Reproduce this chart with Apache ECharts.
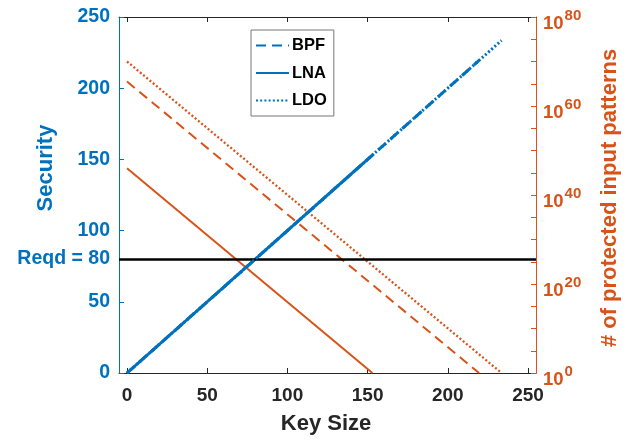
<!DOCTYPE html>
<html>
<head>
<meta charset="utf-8">
<script src="https://cdn.jsdelivr.net/npm/echarts@6/dist/echarts.min.js"></script>
<style>html,body{margin:0;padding:0;background:#fff;}#c{width:628px;height:440px;}</style>
</head>
<body>
<div id="c"></div>
<script>
// ---- data ----
const circuits = ['BPF', 'LNA', 'LDO'];
// key size (x) at start / end of each circuit's lines
const keySizeBPF = [0, 219.5];
const keySizeLNA = [0, 153];
const keySizeLDO = [0, 233.5];
// security (left axis) at those key sizes
const securityBPF = [0, 219.5];
const securityLNA = [0, 153];
const securityLDO = [0, 233.5];
// log10 of # protected input patterns (right axis) at those key sizes
const patternsLog10BPF = [65.5, 0];
const patternsLog10LNA = [46.0, 0];
const patternsLog10LDO = [70.0, 0];
const requiredSecurity = 80;
const xTicks = [0, 50, 100, 150, 200, 250];
const leftTicks = [0, 50, 100, 150, 200, 250];
const rightLabelExps = [0, 20, 40, 60, 80];

const BLUE = '#0072BD', ORANGE = '#D95319', DARK = '#262626';
const FONT = 'Liberation Sans, Arial, sans-serif';

function pairs(xs, ys) { return xs.map((x, i) => [x, ys[i]]); }

const chart = echarts.init(document.getElementById('c'), null, {renderer: 'canvas'});

const styleFor = {
  BPF: [10, 6],
  LNA: 'solid',
  LDO: [2, 2.2]
};

const secData = {BPF: pairs(keySizeBPF, securityBPF), LNA: pairs(keySizeLNA, securityLNA), LDO: pairs(keySizeLDO, securityLDO)};
const patData = {BPF: pairs(keySizeBPF, patternsLog10BPF), LNA: pairs(keySizeLNA, patternsLog10LNA), LDO: pairs(keySizeLDO, patternsLog10LDO)};

const series = [];
circuits.forEach(c => {
  series.push({
    name: c + ' patterns', type: 'line', xAxisIndex: 0, yAxisIndex: 1,
    data: patData[c], symbol: 'none', silent: true, animation: false, z: 2,
    lineStyle: {color: ORANGE, width: c === 'LDO' ? 2.3 : 2, type: styleFor[c]}, itemStyle: {color: ORANGE}
  });
});
// blue security lines, LNA under, then BPF, then LDO on top
['LNA', 'BPF', 'LDO'].forEach((c, i) => {
  series.push({
    name: c, type: 'line', xAxisIndex: 0, yAxisIndex: 0,
    data: secData[c], symbol: 'none', silent: true, animation: false, z: 3 + i,
    lineStyle: {color: BLUE, width: 3, type: styleFor[c]}, itemStyle: {color: BLUE}
  });
});
// required security line
series.push({
  name: 'Reqd', type: 'line', xAxisIndex: 0, yAxisIndex: 0, data: [], symbol: 'none',
  animation: false, z: 6,
  markLine: {silent: true, symbol: 'none', animation: false, label: {show: false},
    lineStyle: {color: '#000', width: 2.6, type: 'solid'}, data: [{yAxis: requiredSecurity}]}
});

const option = {
  backgroundColor: '#fff',
  animation: false,
  grid: {left: 119, top: 17, width: 417, height: 356, containLabel: false},
  legend: {
    orient: 'vertical', left: 251, top: 30,
    data: circuits,
    padding: [7, 7, 7, 4], itemGap: 10.5, itemWidth: 33, itemHeight: 14,
    borderColor: '#777', borderWidth: 1, backgroundColor: '#fff',
    itemStyle: {color: 'rgba(0,0,0,0)', borderWidth: 0, opacity: 0},
    textStyle: {fontFamily: FONT, fontWeight: 'bold', fontSize: 16.5, color: '#000', padding: [0, 0, 0, -2]},
    selectedMode: false
  },
  xAxis: [{
    type: 'value', position: 'bottom', min: -5, max: 255,
    axisLine: {show: true, onZero: false, lineStyle: {color: DARK, width: 1}},
    axisTick: {show: true, inside: true, length: 5, customValues: xTicks, lineStyle: {color: DARK}},
    axisLabel: {customValues: xTicks, margin: 13, color: DARK, fontFamily: FONT, fontWeight: 'bold', fontSize: 19},
    splitLine: {show: false}
  }, {
    type: 'value', position: 'top', min: -5, max: 255,
    axisLine: {show: true, onZero: false, lineStyle: {color: DARK, width: 1}},
    axisTick: {show: true, inside: true, length: 5, customValues: xTicks, lineStyle: {color: DARK}},
    axisLabel: {show: false},
    splitLine: {show: false}
  }],
  yAxis: [{
    type: 'value', position: 'left', min: 0, max: 250,
    axisLine: {show: true, onZero: false, lineStyle: {color: BLUE, width: 1}},
    axisTick: {show: true, inside: true, length: 5, customValues: leftTicks, lineStyle: {color: BLUE}},
    axisLabel: {customValues: leftTicks.concat([requiredSecurity]), margin: 9, color: BLUE,
      fontFamily: FONT, fontWeight: 'bold', fontSize: 19.5,
      formatter: v => v === requiredSecurity ? 'Reqd = ' + v : String(v)},
    splitLine: {show: false}
  }, {
    type: 'value', position: 'right', min: 0, max: 80, interval: 5,
    axisLine: {show: true, onZero: false, lineStyle: {color: ORANGE, width: 1}},
    axisTick: {show: true, inside: true, length: 5, lineStyle: {color: ORANGE}},
    axisLabel: {customValues: rightLabelExps, margin: 7, color: ORANGE, padding: [7, 0, 0, 0],
      formatter: v => '{b|10}{s|' + v + '}',
      rich: {
        b: {fontFamily: FONT, fontWeight: 'bold', fontSize: 18.5, color: ORANGE, lineHeight: 25, verticalAlign: 'bottom'},
        s: {fontFamily: FONT, fontWeight: 'bold', fontSize: 15, color: ORANGE, lineHeight: 15, padding: [0, 0, 0, 1], verticalAlign: 'top'}
      }},
    splitLine: {show: false}
  }],
  graphic: [
    {type: 'text', x: 46, y: 168, rotation: Math.PI / 2, silent: true,
      style: {text: 'Security', fill: BLUE, font: 'bold 22px ' + FONT, textAlign: 'center', textVerticalAlign: 'middle'}},
    {type: 'text', x: 610, y: 198, rotation: Math.PI / 2, silent: true,
      style: {text: '# of protected input patterns', fill: ORANGE, font: 'bold 22px ' + FONT, textAlign: 'center', textVerticalAlign: 'middle'}},
    {type: 'text', x: 326, y: 424, silent: true,
      style: {text: 'Key Size', fill: DARK, font: 'bold 22px ' + FONT, textAlign: 'center', textVerticalAlign: 'middle'}}
  ],
  series: series
};
chart.setOption(option);
</script>
</body>
</html>
